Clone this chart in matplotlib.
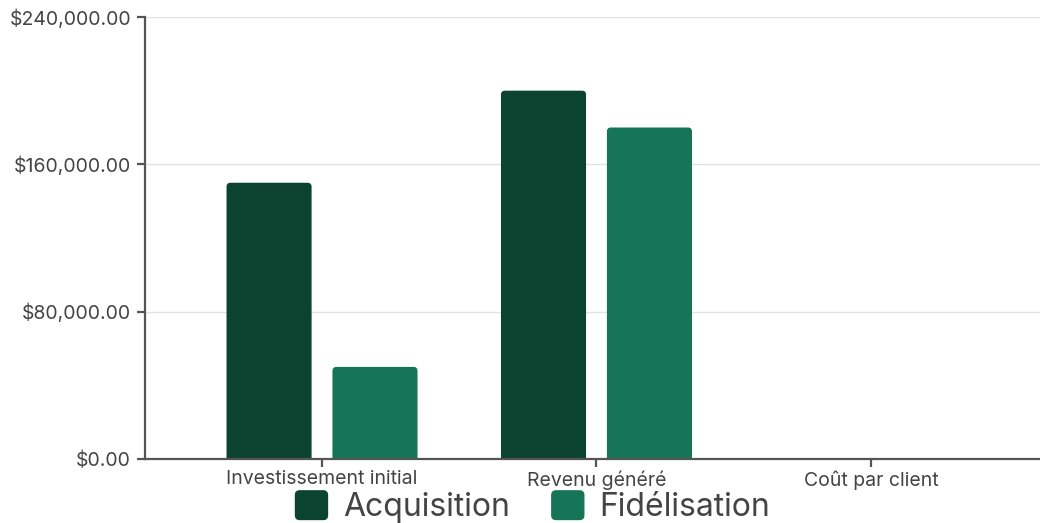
import matplotlib.pyplot as plt
from matplotlib.patches import FancyBboxPatch
from matplotlib.legend_handler import HandlerPatch
from matplotlib.ticker import FuncFormatter

plt.rcParams['font.family'] = ['Inter', 'DejaVu Sans']

# data
categories = ['Investissement initial', 'Revenu généré', 'Coût par client']
series_names = ['Acquisition', 'Fidélisation']
acquisition = [150000, 200000, 120]
fidelisation = [50000, 180000, 45]
colors = ['#0c4330', '#167457']
y_ticks = [0, 80000, 160000, 240000]

W, H = 1040, 523
fig = plt.figure(figsize=(W / 100, H / 100), dpi=100)
ax = fig.add_axes([145 / W, (H - 459) / H, (W - 145) / W, (459 - 17) / H])

x0 = -0.645
x1 = 2.616
ax.set_xlim(x0, x1)
ax.set_ylim(0, 240000)

bar_w = 0.31
offsets = [-0.193, 0.193]
px_x = ax.get_position().width * W / (x1 - x0)      # px per x unit
px_y = ax.get_position().height * H / 240000         # px per y unit
aspect = px_x / px_y
radius = 4 / px_x

for vals, off, col in zip([acquisition, fidelisation], offsets, colors):
    for i, v in enumerate(vals):
        xl = i + off - bar_w / 2
        p = FancyBboxPatch((xl, -radius * aspect * 2), bar_w, v + radius * aspect * 2,
                           boxstyle=f'round,pad=0,rounding_size={radius}',
                           mutation_aspect=aspect, facecolor=col, edgecolor='none',
                           zorder=3)
        ax.add_patch(p)

ax.set_xticks(range(len(categories)))
ax.set_xticklabels(categories)
ax.set_yticks(y_ticks)
ax.yaxis.set_major_formatter(FuncFormatter(lambda v, _: f'${v:,.2f}'))

ax.grid(axis='y', color='#e2e2e2', linewidth=1, zorder=0)
ax.set_axisbelow(True)
for s in ['top', 'right']:
    ax.spines[s].set_visible(False)
for s in ['left', 'bottom']:
    ax.spines[s].set_color('#555555')
    ax.spines[s].set_linewidth(1.6)
    ax.spines[s].set_zorder(4)
ax.tick_params(axis='both', colors='#555555', width=1.6, length=6, pad=4,
               labelsize=14, labelcolor='#444444')
ax.tick_params(axis='x', pad=2)


def rounded_handle(legend, orig_handle, xdescent, ydescent, width, height, fontsize):
    return FancyBboxPatch((-xdescent, -ydescent), width, height,
                          boxstyle='round,pad=0,rounding_size=3')


handles = [plt.Rectangle((0, 0), 1, 1, color=c) for c in colors]
fig.legend(handles, series_names, loc='center', bbox_to_anchor=(533 / W, 16 / H),
           ncol=2, frameon=False, fontsize=23, labelcolor='#444444',
           handlelength=1.0, handleheight=1.0, handletextpad=0.5,
           columnspacing=1.3, borderpad=0,
           handler_map={plt.Rectangle: HandlerPatch(patch_func=rounded_handle)})

fig.savefig('out.png', dpi=100)
